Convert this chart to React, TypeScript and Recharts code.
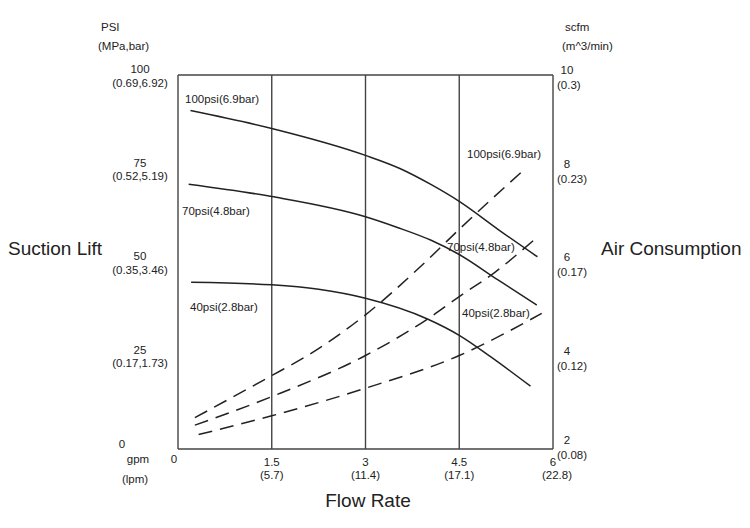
import React from "react";
import { ComposedChart, Line, XAxis, YAxis, CartesianGrid } from "recharts";

// flow rate (gpm) sample points
const lift100Gpm = [0.2, 1.5, 3, 3.55, 4.06, 4.5, 5.13, 5.75];
const lift100Psi = [90.5, 85.7, 78.5, 75, 70.6, 66.2, 58.6, 51.4];
const lift70Gpm = [0.17, 1.5, 3, 3.5, 4.05, 4.5, 5.12, 5.74];
const lift70Psi = [70.8, 67.5, 62.1, 59.3, 55.8, 52, 45.2, 38.5];
const lift40Gpm = [0.21, 1.5, 2.25, 3, 4, 4.5, 5, 5.64];
const lift40Psi = [44.6, 43.9, 42.7, 40.3, 34.7, 30.4, 24.7, 16.8];

const air100Gpm = [0.27, 1.5, 2.06, 3, 3.95, 4.5, 5.5];
const air100Scfm = [2.67, 3.57, 3.99, 4.87, 5.99, 6.7, 7.93];
const air70Gpm = [0.27, 1.5, 3, 3.98, 4.5, 5.07, 5.72];
const air70Scfm = [2.51, 3.12, 4.0, 4.77, 5.26, 5.78, 6.5];
const air40Gpm = [0.33, 1.5, 3, 4.5, 5.82];
const air40Scfm = [2.31, 2.71, 3.3, 4.0, 4.9];

const xTicks = [0, 1.5, 3, 4.5, 6];
const xTickSub: Record<number, string> = { 1.5: "(5.7)", 3: "(11.4)", 4.5: "(17.1)", 6: "(22.8)" };
const psiTicks = [0, 25, 50, 75, 100];
const psiTickSub: Record<number, string> = {
  25: "(0.17,1.73)",
  50: "(0.35,3.46)",
  75: "(0.52,5.19)",
  100: "(0.69,6.92)",
};
const scfmTicks = [2, 4, 6, 8, 10];
const scfmTickSub: Record<number, string> = {
  2: "(0.08)",
  4: "(0.12)",
  6: "(0.17)",
  8: "(0.23)",
  10: "(0.3)",
};

const toRows = (xs: number[], ys: number[], key: string) =>
  xs.map((x, i) => ({ gpm: x, [key]: ys[i] }));

const FONT = "'Liberation Sans', Arial, sans-serif";
const INK = "#222";
const small = { fontFamily: FONT, fontSize: 11.5, fill: INK };

const LeftTick = (props: any) => {
  const { x, y, payload } = props;
  const v = payload.value;
  if (v === 0) {
    return (
      <g>
        <text x={122} y={y - 5} textAnchor="middle" dominantBaseline="central" {...small}>0</text>
        <text x={138} y={y + 10} textAnchor="middle" dominantBaseline="central" {...small}>gpm</text>
        <text x={135} y={y + 30} textAnchor="middle" dominantBaseline="central" {...small}>(lpm)</text>
      </g>
    );
  }
  return (
    <g>
      <text x={x - 38} y={y - 6} textAnchor="middle" dominantBaseline="central" {...small}>{v}</text>
      <text x={x - 38} y={y + 7.5} textAnchor="middle" dominantBaseline="central" {...small}>{psiTickSub[v]}</text>
    </g>
  );
};

const RightTick = (props: any) => {
  const { x, y, payload } = props;
  const v = payload.value;
  const up = v === 2 ? 9 : 5;
  const down = v === 2 ? 6 : 10;
  return (
    <g>
      <text x={x + 14} y={y - up} textAnchor="middle" dominantBaseline="central" {...small}>{v}</text>
      <text x={x + 4} y={y + down} textAnchor="start" dominantBaseline="central" {...small}>{scfmTickSub[v]}</text>
    </g>
  );
};

const BottomTick = (props: any) => {
  const { x, y, payload } = props;
  const v = payload.value;
  if (v === 0) {
    return (
      <text x={x - 4} y={y + 10} textAnchor="middle" dominantBaseline="central" {...small}>0</text>
    );
  }
  const dx = v === 6 ? 4 : 0;
  return (
    <g>
      <text x={x} y={y + 13} textAnchor="middle" dominantBaseline="central" {...small}>{v}</text>
      <text x={x + dx} y={y + 26} textAnchor="middle" dominantBaseline="central" {...small}>{xTickSub[v]}</text>
    </g>
  );
};

const App = () => {
  const big = { fontFamily: FONT, fontSize: 19, fill: INK };
  return (
    <div style={{ position: "absolute", left: 0, top: 0, width: 750, height: 528, background: "#fff" }}>
      <ComposedChart
        width={750}
        height={528}
        margin={{ top: 75, right: 137, bottom: 49, left: 118 }}
      >
        <CartesianGrid stroke="#444" strokeWidth={1.4} />
        <XAxis
          dataKey="gpm"
          type="number"
          domain={[0, 6]}
          ticks={xTicks}
          axisLine={false}
          tickLine={false}
          tickSize={0}
          tickMargin={0}
          height={30}
          tick={<BottomTick />}
          allowDuplicatedCategory={false}
        />
        <YAxis
          yAxisId="psi"
          type="number"
          domain={[0, 100]}
          ticks={psiTicks}
          axisLine={false}
          tickLine={false}
          tickSize={0}
          tickMargin={0}
          width={60}
          tick={<LeftTick />}
        />
        <YAxis
          yAxisId="air"
          orientation="right"
          type="number"
          domain={[2, 10]}
          ticks={scfmTicks}
          axisLine={false}
          tickLine={false}
          tickSize={0}
          tickMargin={0}
          width={60}
          tick={<RightTick />}
        />
        <Line yAxisId="psi" data={toRows(lift100Gpm, lift100Psi, "v")} dataKey="v" type="monotone" stroke={INK} strokeWidth={1.5} dot={false} isAnimationActive={false} />
        <Line yAxisId="psi" data={toRows(lift70Gpm, lift70Psi, "v")} dataKey="v" type="monotone" stroke={INK} strokeWidth={1.5} dot={false} isAnimationActive={false} />
        <Line yAxisId="psi" data={toRows(lift40Gpm, lift40Psi, "v")} dataKey="v" type="monotone" stroke={INK} strokeWidth={1.5} dot={false} isAnimationActive={false} />
        <Line yAxisId="air" data={toRows(air100Gpm, air100Scfm, "v")} dataKey="v" type="monotone" stroke={INK} strokeWidth={1.5} strokeDasharray="14 8" dot={false} isAnimationActive={false} />
        <Line yAxisId="air" data={toRows(air70Gpm, air70Scfm, "v")} dataKey="v" type="monotone" stroke={INK} strokeWidth={1.5} strokeDasharray="14 8" dot={false} isAnimationActive={false} />
        <Line yAxisId="air" data={toRows(air40Gpm, air40Scfm, "v")} dataKey="v" type="monotone" stroke={INK} strokeWidth={1.5} strokeDasharray="14 8" dot={false} isAnimationActive={false} />
      </ComposedChart>
      <svg width={750} height={528} style={{ position: "absolute", left: 0, top: 0, pointerEvents: "none" }}>
        <text x={101} y={27} dominantBaseline="central" {...small}>PSI</text>
        <text x={98} y={46} dominantBaseline="central" {...small}>(MPa,bar)</text>
        <text x={565} y={27} dominantBaseline="central" {...small}>scfm</text>
        <text x={562} y={46} dominantBaseline="central" {...small}>(m^3/min)</text>
        <text x={8} y={248} dominantBaseline="central" {...big}>Suction Lift</text>
        <text x={601} y={248} dominantBaseline="central" {...big}>Air Consumption</text>
        <text x={368} y={500} textAnchor="middle" dominantBaseline="central" {...big}>Flow Rate</text>
        <text x={185} y={99} dominantBaseline="central" {...small}>100psi(6.9bar)</text>
        <text x={182} y={211} dominantBaseline="central" {...small}>70psi(4.8bar)</text>
        <text x={190} y={307} dominantBaseline="central" {...small}>40psi(2.8bar)</text>
        <text x={467} y={154} dominantBaseline="central" {...small}>100psi(6.9bar)</text>
        <text x={447} y={247} dominantBaseline="central" {...small}>70psi(4.8bar)</text>
        <text x={462} y={313} dominantBaseline="central" {...small}>40psi(2.8bar)</text>
      </svg>
    </div>
  );
};

export default App;
